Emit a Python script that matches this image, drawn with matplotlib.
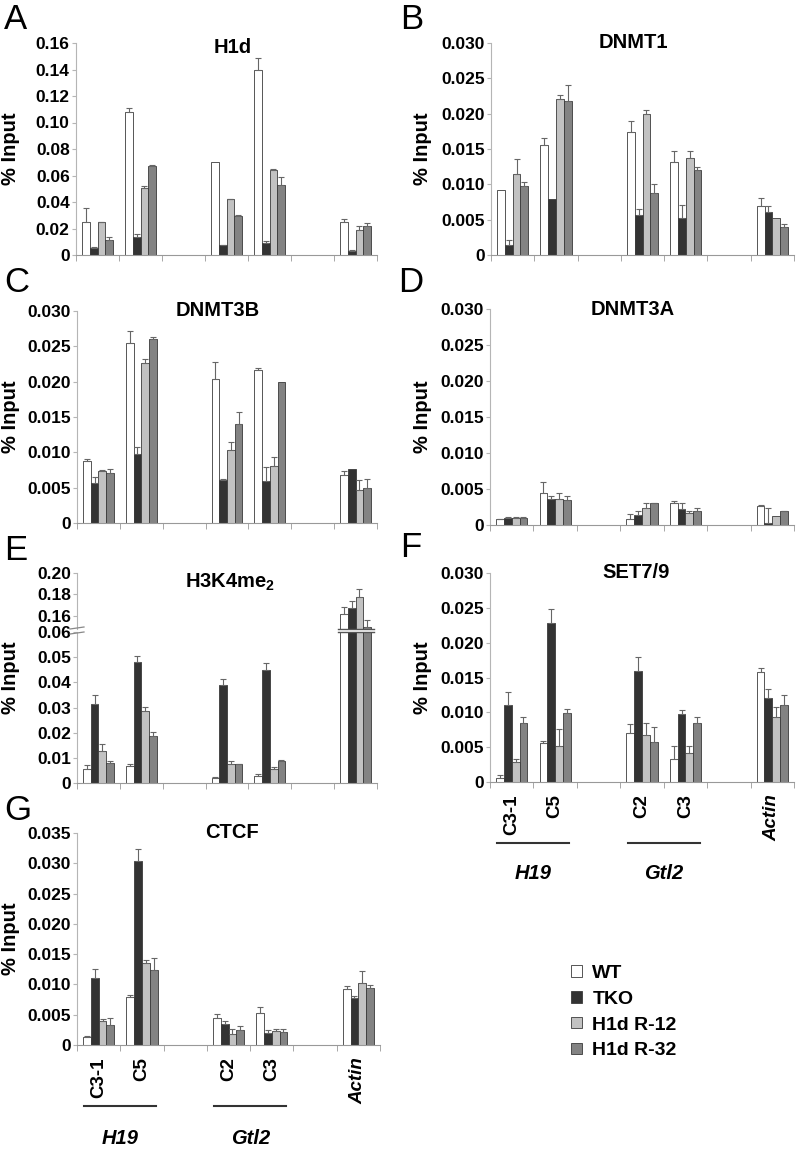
"""ChIP % input bar panels (H1d, DNMT1, DNMT3B, DNMT3A, H3K4me2, SET7/9, CTCF)."""

import numpy as np
import matplotlib
matplotlib.use("Agg")
import matplotlib.pyplot as plt
from matplotlib.patches import Patch
from matplotlib.lines import Line2D
from matplotlib.transforms import blended_transform_factory

plt.rcParams['font.family'] = ['Liberation Sans', 'DejaVu Sans']
plt.rcParams['font.weight'] = 'bold'
plt.rcParams['mathtext.fontset'] = 'custom'
plt.rcParams['mathtext.rm'] = 'Liberation Sans:bold'
plt.rcParams['mathtext.bf'] = 'Liberation Sans:bold'

# =============================================================================
# Data (rows: WT, TKO, H1d R-12, H1d R-32; columns: sites)
series = ["WT", "TKO", "H1d R-12", "H1d R-32"]
sites = ["C3-1", "C5", "C2", "C3", "Actin"]
groups = ["H19", "Gtl2"]

h1d_val = [[0.0247, 0.1078, 0.0700, 0.1400, 0.0247],
           [0.0050, 0.0139, 0.0073, 0.0090, 0.0033],
           [0.0247, 0.0509, 0.0420, 0.0645, 0.0190],
           [0.0113, 0.0668, 0.0295, 0.0529, 0.0222]]
h1d_err = [[0.0106, 0.0030, 0.0, 0.0090, 0.0023],
           [0.0008, 0.0017, 0.0003, 0.0018, 0.0003],
           [0.0003, 0.0015, 0.0005, 0.0003, 0.0030],
           [0.0020, 0.0015, 0.0005, 0.0060, 0.0020]]

dnmt1_val = [[0.0092, 0.0155, 0.0174, 0.0131, 0.0069],
             [0.0014, 0.0079, 0.0057, 0.0053, 0.0061],
             [0.0115, 0.0221, 0.0200, 0.0137, 0.0053],
             [0.0098, 0.0218, 0.0088, 0.0120, 0.0040]]
dnmt1_err = [[0.0, 0.0010, 0.0015, 0.0016, 0.0012],
             [0.0007, 0.0, 0.0008, 0.0018, 0.0008],
             [0.0021, 0.0006, 0.0005, 0.0010, 0.0],
             [0.0005, 0.0022, 0.0012, 0.0005, 0.0004]]

dnmt3b_val = [[0.0088, 0.0255, 0.0204, 0.0216, 0.0068],
              [0.0056, 0.0098, 0.0061, 0.0059, 0.0077],
              [0.0073, 0.0227, 0.0104, 0.0080, 0.0046],
              [0.0071, 0.0260, 0.0140, 0.0200, 0.0049]]
dnmt3b_err = [[0.0003, 0.0017, 0.0024, 0.0004, 0.0005],
              [0.0009, 0.0009, 0.0001, 0.0020, 0.0],
              [0.0002, 0.0005, 0.0011, 0.0013, 0.0015],
              [0.0005, 0.0003, 0.0017, 0.0, 0.0013]]

dnmt3a_val = [[0.0008, 0.0044, 0.0008, 0.0030, 0.0027],
              [0.0010, 0.0036, 0.0014, 0.0022, 0.0003],
              [0.0010, 0.0036, 0.0023, 0.0016, 0.0012],
              [0.0010, 0.0035, 0.0030, 0.0020, 0.0019]]
dnmt3a_err = [[0.0001, 0.0016, 0.0007, 0.0003, 0.0001],
              [0.0001, 0.0004, 0.0006, 0.0009, 0.0020],
              [0.0001, 0.0009, 0.0008, 0.0004, 0.0],
              [0.0001, 0.0005, 0.0001, 0.0003, 0.0001]]

h3k4_val = [[0.0055, 0.0066, 0.0020, 0.0026, 0.1615],
            [0.0313, 0.0480, 0.0389, 0.0450, 0.1668],
            [0.0128, 0.0286, 0.0075, 0.0055, 0.1772],
            [0.0079, 0.0186, 0.0075, 0.0086, 0.1495]]
h3k4_err = [[0.0017, 0.0009, 0.0002, 0.0010, 0.0062],
            [0.0037, 0.0026, 0.0025, 0.0025, 0.0070],
            [0.0026, 0.0017, 0.0013, 0.0010, 0.0077],
            [0.0009, 0.0017, 0.0002, 0.0004, 0.0065]]

set79_val = [[0.0006, 0.0056, 0.0071, 0.0033, 0.0158],
             [0.0111, 0.0228, 0.0160, 0.0098, 0.0120],
             [0.0029, 0.0051, 0.0067, 0.0042, 0.0093],
             [0.0084, 0.0099, 0.0057, 0.0084, 0.0111]]
set79_err = [[0.0004, 0.0003, 0.0012, 0.0018, 0.0006],
             [0.0018, 0.0021, 0.0020, 0.0006, 0.0013],
             [0.0004, 0.0025, 0.0018, 0.0009, 0.0014],
             [0.0009, 0.0006, 0.0022, 0.0009, 0.0014]]

ctcf_val = [[0.0013, 0.0080, 0.0044, 0.0053, 0.0093],
            [0.0111, 0.0303, 0.0035, 0.0020, 0.0077],
            [0.0039, 0.0136, 0.0018, 0.0023, 0.0103],
            [0.0033, 0.0123, 0.0024, 0.0021, 0.0094]]
ctcf_err = [[0.0002, 0.0002, 0.0008, 0.0009, 0.0004],
            [0.0015, 0.0021, 0.0004, 0.0004, 0.0004],
            [0.0004, 0.0004, 0.0009, 0.0004, 0.0019],
            [0.0011, 0.0020, 0.0007, 0.0005, 0.0005]]

# =============================================================================
W, H = 796, 1150
slot_pos = np.array([0, 1, 3, 4, 6])
group_pos = [0.5, 3.5]
bar_w = 0.18
colors = ["white", "#333333", "#c2c2c2", "#838383"]
edge = "#3a3a3a"
err_c = "#666666"
spine_c = "#b5b5b5"


def fbox(l, t, r, b):
    return [l / W, 1 - b / H, (r - l) / W, (b - t) / H]


def draw_bars(ax, vals, errs):
    for i in range(4):
        x = slot_pos + (i - 1.5) * bar_w
        v = np.array(vals[i])
        e = np.array(errs[i])
        ax.bar(x, v, bar_w, color=colors[i], edgecolor=edge, linewidth=0.6,
               zorder=2)
        m = e > 0
        ax.errorbar(x[m], v[m], yerr=[np.zeros(m.sum()), e[m]], fmt="none",
                    ecolor=err_c, elinewidth=0.8, capsize=2, capthick=0.8,
                    zorder=3)


def style(ax, ylim, ticks, fmt, bottom=True):
    ax.set_xlim(-0.5, 6.5)
    ax.set_ylim(*ylim)
    ax.set_yticks(ticks)
    ax.set_yticklabels(["0" if t == 0 else fmt % t for t in ticks])
    ax.tick_params(axis="y", length=3, width=0.8, color=spine_c, pad=1.5,
                   labelsize=12.5)
    for s in ["top", "right"]:
        ax.spines[s].set_visible(False)
    ax.spines["left"].set_color(spine_c)
    ax.spines["bottom"].set_color("#999999")
    ax.set_xticks(slot_pos)
    ax.set_xticklabels([])
    ax.tick_params(axis="x", which="major", length=0)
    if bottom:
        ax.set_xticks(np.arange(-0.5, 7), minor=True)
        ax.tick_params(axis="x", which="minor", length=4, color="#999999")
    else:
        ax.spines["bottom"].set_visible(False)


def site_labels(ax):
    ax.set_xticklabels(sites, rotation=90, fontsize=13.5)
    ax.tick_params(axis="x", which="major", pad=9)
    ax.get_xticklabels()[-1].set_style("italic")
    tr = blended_transform_factory(ax.transData, ax.transAxes)
    for g, c in zip(groups, group_pos):
        ax.plot([c - 0.83, c + 0.83], [-0.29, -0.29], transform=tr,
                clip_on=False, color="#333333", lw=1.5)
        ax.text(c, -0.44, g, transform=tr, ha="center", va="center",
                fontsize=14.5, style="italic")


fig = plt.figure(figsize=(W / 100, H / 100), dpi=100)

panels = [
    ("A", (4, 3), "H1d", (76, 43, 377, 255), h1d_val, h1d_err,
     np.arange(0, 0.161, 0.02), "%.2f", 0.16, 0.52, 0.98),
    ("B", (400, 3), "DNMT1", (491, 43, 794, 255), dnmt1_val, dnmt1_err,
     np.arange(0, 0.0301, 0.005), "%.3f", 0.030, 0.47, 1.0),
    ("C", (4, 266), "DNMT3B", (77, 311, 377, 523), dnmt3b_val, dnmt3b_err,
     np.arange(0, 0.0301, 0.005), "%.3f", 0.030, 0.47, 1.0),
    ("D", (398, 266), "DNMT3A", (490, 309, 794, 525), dnmt3a_val, dnmt3a_err,
     np.arange(0, 0.0301, 0.005), "%.3f", 0.030, 0.47, 1.0),
    ("F", (400, 531), "SET7/9", (490, 573, 794, 782), set79_val, set79_err,
     np.arange(0, 0.0301, 0.005), "%.3f", 0.030, 0.48, 1.0),
    ("G", (4, 794), "CTCF", (77, 833, 380, 1045), ctcf_val, ctcf_err,
     np.arange(0, 0.0351, 0.005), "%.3f", 0.035, 0.51, 1.0),
]

for letter, lpos, title, box, vals, errs, ticks, fmt, ymax, tx, ty in panels:
    ax = fig.add_axes(fbox(*box))
    draw_bars(ax, vals, errs)
    style(ax, (0, ymax), ticks, fmt)
    ax.text(tx, ty, title, transform=ax.transAxes, ha="center",
            va="center", fontsize=14.5)
    fig.text(lpos[0] / W, 1 - lpos[1] / H, letter, fontsize=25,
             fontweight="normal", ha="left", va="top")
    ylx = 11 if box[0] < 300 else 423
    fig.text(ylx / W, 1 - (box[1] + box[3]) / 2 / H, "% Input", rotation=90,
             ha="center", va="center", fontsize=14.5)
    if letter in ("F", "G"):
        site_labels(ax)

# Panel E: broken y axis
axE_top = fig.add_axes(fbox(77, 573, 377, 629))
axE_bot = fig.add_axes(fbox(77, 632, 377, 783))
for a in (axE_top, axE_bot):
    draw_bars(a, h3k4_val, h3k4_err)
style(axE_top, (0.1474, 0.20), [0.16, 0.18, 0.20], "%.2f", bottom=False)
style(axE_bot, (0, 0.06), np.arange(0, 0.061, 0.01), "%.2f")
# cut edges of the Actin bars at the break
cut = [slot_pos[-1] - 0.42, slot_pos[-1] + 0.42]
axE_top.plot(cut, [0.1474, 0.1474], color="#555555", lw=1.0, clip_on=False,
             zorder=4)
axE_bot.plot(cut, [0.06, 0.06], color="#555555", lw=1.0, clip_on=False,
             zorder=4)
axE_top.text(0.51, 0.84, r"H3K4me$_{2}$", transform=axE_top.transAxes,
             ha="center", va="center", fontsize=14.5)
fig.text(4 / W, 1 - 534 / H, "E", fontsize=25, fontweight="normal",
         ha="left", va="top")
fig.text(11 / W, 1 - 678 / H, "% Input", rotation=90, ha="center",
         va="center", fontsize=14.5)
for yb in (628, 633):
    fig.add_artist(Line2D([70 / W, 84 / W], [1 - (yb + 1) / H, 1 - (yb - 1) / H],
                          color="#888888", lw=0.9))

# Legend
handles = [Patch(facecolor=c, edgecolor=edge, linewidth=0.6) for c in colors]
fig.legend(handles, series, loc="upper left", bbox_to_anchor=(571 / W, 1 - 965 / H),
           frameon=False, handlelength=0.55, handleheight=0.55, handletextpad=0.55,
           labelspacing=0.45, borderpad=0, borderaxespad=0,
           prop={"size": 14, "weight": "bold"})

fig.savefig("out.png", dpi=100)
